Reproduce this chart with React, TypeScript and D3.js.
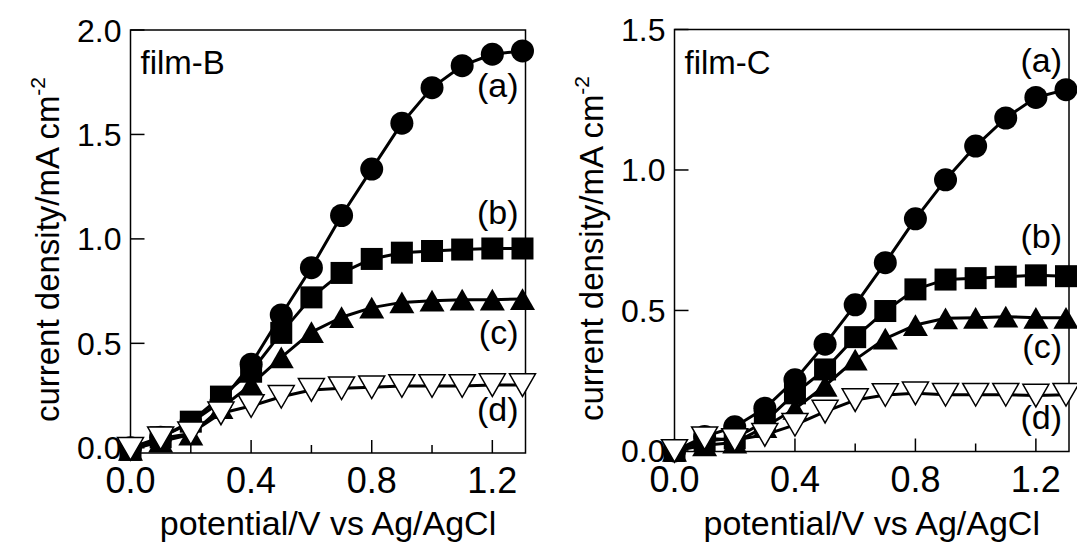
import React, { useEffect, useRef } from 'react';
import * as d3 from 'd3';

const potentials = [0, 0.1, 0.2, 0.3, 0.4, 0.5, 0.6, 0.7, 0.8, 0.9, 1.0, 1.1, 1.2, 1.3];

// film-B
const filmB_a = [0, 0.05, 0.12, 0.22, 0.4, 0.636, 0.862, 1.112, 1.334, 1.554, 1.724, 1.829, 1.884, 1.9];
const filmB_b = [-0.01, 0.05, 0.125, 0.245, 0.364, 0.55, 0.72, 0.837, 0.904, 0.934, 0.942, 0.949, 0.954, 0.954];
const filmB_c = [-0.01, 0.03, 0.063, 0.19, 0.302, 0.433, 0.554, 0.625, 0.671, 0.696, 0.704, 0.709, 0.709, 0.712];
const filmB_d = [-0.005, 0.045, 0.069, 0.165, 0.2, 0.244, 0.277, 0.285, 0.29, 0.296, 0.296, 0.296, 0.3, 0.3];

// film-C
const filmC_a = [0, 0.051, 0.086, 0.152, 0.253, 0.38, 0.52, 0.67, 0.826, 0.965, 1.085, 1.185, 1.258, 1.286];
const filmC_b = [0, 0.035, 0.045, 0.104, 0.205, 0.29, 0.405, 0.498, 0.575, 0.61, 0.615, 0.62, 0.625, 0.622];
const filmC_c = [0, 0.02, 0.03, 0.085, 0.15, 0.232, 0.325, 0.4, 0.448, 0.472, 0.474, 0.478, 0.474, 0.474];
const filmC_d = [0, 0.045, 0.039, 0.057, 0.093, 0.14, 0.181, 0.199, 0.205, 0.2, 0.2, 0.2, 0.197, 0.2];

const seriesLabels = ['(a)', '(b)', '(c)', '(d)'];
const xMajorTicks = [0, 0.4, 0.8, 1.2];
const xMinorTicks = [0.2, 0.6, 1.0];
const yTicksB = [0, 0.5, 1.0, 1.5, 2.0];
const yTicksC = [0, 0.5, 1.0, 1.5];

const FONT = "'Liberation Sans', Arial, Helvetica, sans-serif";

type PanelProps = {
  left: number;
  right: number;
  top: number;
  bottom: number;
  yDomain: [number, number];
  yTicks: number[];
  series: number[][];
  film: string;
  labelY: number[];
};

const Panel = ({ left, right, top, bottom, yDomain, yTicks, series, film, labelY }: PanelProps) => {
  const gRef = useRef<SVGGElement>(null);

  useEffect(() => {
    const g = d3.select(gRef.current);
    g.selectAll('*').remove();

    const x = d3.scaleLinear().domain([0, 1.31]).range([left, right]);
    const y = d3.scaleLinear().domain(yDomain).range([bottom, top]);

    // frame
    g.append('rect')
      .attr('x', left).attr('y', top)
      .attr('width', right - left).attr('height', bottom - top)
      .attr('fill', 'none').attr('stroke', '#000').attr('stroke-width', 1.5);

    // y ticks (inside)
    yTicks.forEach(t => {
      g.append('line')
        .attr('x1', left).attr('x2', left + 14)
        .attr('y1', y(t)).attr('y2', y(t))
        .attr('stroke', '#000').attr('stroke-width', 1.5);
      g.append('text')
        .attr('x', left - 9).attr('y', y(t))
        .attr('dy', '0.36em')
        .attr('text-anchor', 'end')
        .style('font-family', FONT).style('font-size', '32px')
        .text(t.toFixed(1));
    });

    // x ticks (inside)
    xMajorTicks.forEach(t => {
      g.append('line')
        .attr('x1', x(t)).attr('x2', x(t))
        .attr('y1', bottom).attr('y2', bottom - 13)
        .attr('stroke', '#000').attr('stroke-width', 1.5);
      g.append('text')
        .attr('x', x(t)).attr('y', bottom + 40)
        .attr('text-anchor', 'middle')
        .style('font-family', FONT).style('font-size', '36px')
        .text(t.toFixed(1));
    });
    xMinorTicks.forEach(t => {
      g.append('line')
        .attr('x1', x(t)).attr('x2', x(t))
        .attr('y1', bottom).attr('y2', bottom - 8)
        .attr('stroke', '#000').attr('stroke-width', 1.5);
    });

    // axis titles
    g.append('text')
      .attr('x', (left + right) / 2).attr('y', 535)
      .attr('text-anchor', 'middle')
      .style('font-family', FONT).style('font-size', '34px')
      .text('potential/V vs Ag/AgCl');

    const yt = g.append('text')
      .attr('transform', `translate(${left - 72},${(top + bottom) / 2 + 8}) rotate(-90)`)
      .attr('text-anchor', 'middle')
      .style('font-family', FONT).style('font-size', '33px');
    yt.append('tspan').text('current density/mA cm');
    yt.append('tspan').attr('dy', -14).style('font-size', '21px').text('-2');

    // film label
    g.append('text')
      .attr('x', left + 10).attr('y', top + 44)
      .style('font-family', FONT).style('font-size', '33px')
      .text(film);

    const line = d3.line<number>()
      .x((_, i) => x(potentials[i]))
      .y(d => y(d));

    const tri = (cx: number, cy: number, s: number, down: boolean) => {
      const h = s * 0.87;
      return down
        ? `M${cx - s / 2},${cy - h / 2}L${cx + s / 2},${cy - h / 2}L${cx},${cy + h / 2}Z`
        : `M${cx - s / 2},${cy + h / 2}L${cx + s / 2},${cy + h / 2}L${cx},${cy - h / 2}Z`;
    };

    series.forEach((vals, si) => {
      g.append('path')
        .datum(vals)
        .attr('d', line)
        .attr('fill', 'none')
        .attr('stroke', '#000')
        .attr('stroke-width', 3)
        .attr('stroke-linejoin', 'round');

      vals.forEach((v, i) => {
        const cx = x(potentials[i]);
        const cy = y(v);
        if (si === 0) {
          g.append('circle').attr('cx', cx).attr('cy', cy).attr('r', 11.5).attr('fill', '#000');
        } else if (si === 1) {
          g.append('rect').attr('x', cx - 11).attr('y', cy - 11).attr('width', 22).attr('height', 22).attr('fill', '#000');
        } else if (si === 2) {
          g.append('path').attr('d', tri(cx, cy, 25, false)).attr('fill', '#000');
        } else {
          g.append('path').attr('d', tri(cx, cy, 26, true))
            .attr('fill', '#fff').attr('stroke', '#000').attr('stroke-width', 1.5);
        }
      });
    });

    // series labels
    seriesLabels.forEach((lab, i) => {
      g.append('text')
        .attr('x', right - 7).attr('y', labelY[i])
        .attr('text-anchor', 'end')
        .style('font-family', FONT).style('font-size', '34px')
        .text(lab);
    });
  }, [left, right, top, bottom, yDomain, yTicks, series, film, labelY]);

  return <g ref={gRef} />;
};

const App = () => {
  return (
    <svg width={1077} height={545} style={{ position: 'absolute', left: 0, top: 0, background: '#fff' }}>
      <Panel
        left={130.5} right={525.5} top={30} bottom={453}
        yDomain={[-0.025, 2.0]} yTicks={yTicksB}
        series={[filmB_a, filmB_b, filmB_c, filmB_d]}
        film="film-B" labelY={[97, 224, 344, 421]}
      />
      <Panel
        left={674.5} right={1069} top={29.5} bottom={451.5}
        yDomain={[-0.002, 1.5]} yTicks={yTicksC}
        series={[filmC_a, filmC_b, filmC_c, filmC_d]}
        film="film-C" labelY={[72, 248, 358, 429]}
      />
    </svg>
  );
};

export default App;
